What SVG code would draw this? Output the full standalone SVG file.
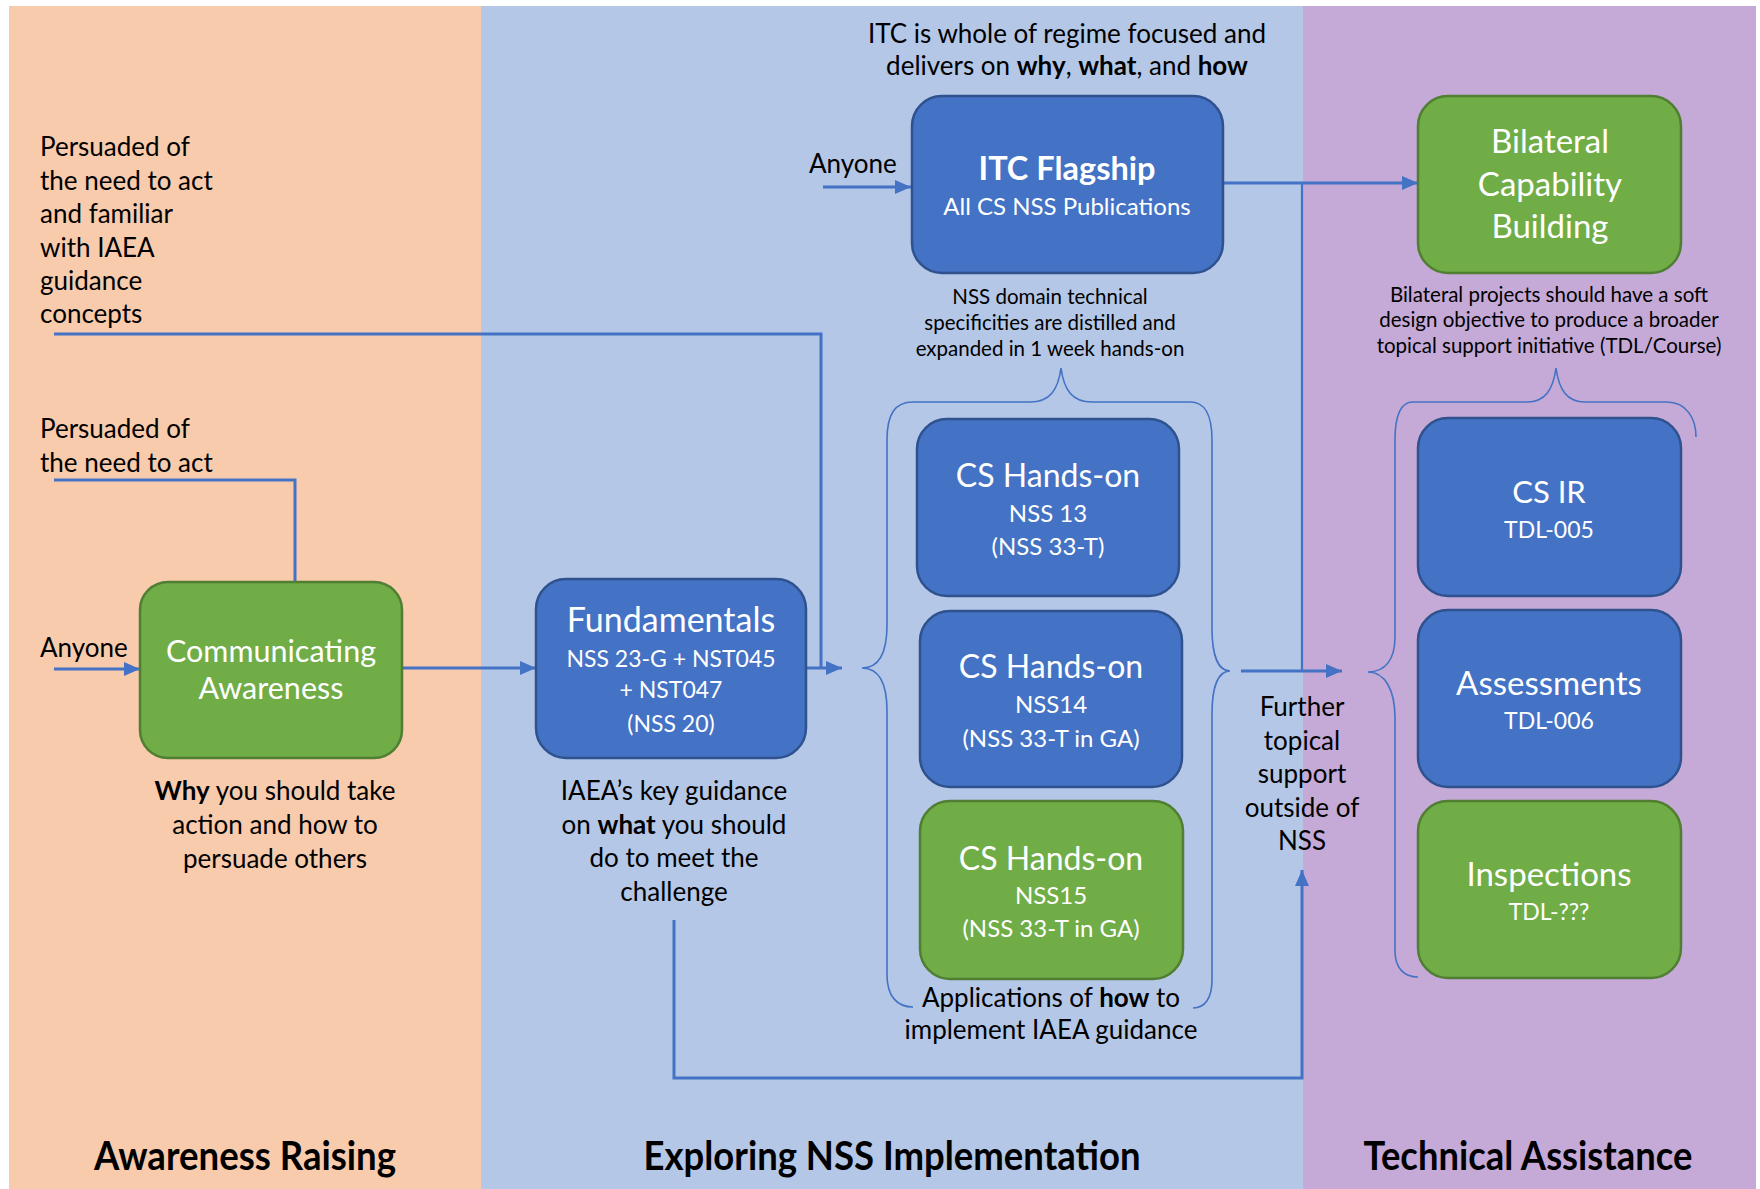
<svg xmlns="http://www.w3.org/2000/svg" width="1760" height="1189" viewBox="0 0 1760 1189">
<defs>
<style>
.t{font-family:Lato,"Open Sans",sans-serif;fill:#000}
.c{text-anchor:middle}
.body{font-size:26px}
.small{font-size:20.5px}
.w{fill:#fff}
.title{font-size:32px}
.sub{font-size:23px}
.sub2{font-size:24px}
.panel{font-size:40px;font-weight:bold}
.b{font-weight:bold}
.blue{fill:#4472C4;stroke:#2F528F;stroke-width:2.5}
.green{fill:#70AD47;stroke:#507E32;stroke-width:2.5}
.conn{fill:none;stroke:#4472C4;stroke-width:3}
.thin{fill:none;stroke:#4472C4;stroke-width:2.2}
.brace{fill:none;stroke:#4472C4;stroke-width:1.6}
</style>
<marker id="arr" markerUnits="userSpaceOnUse" markerWidth="16" markerHeight="14" refX="16" refY="7" orient="auto">
<path d="M0,0 L16,7 L0,14 z" fill="#4472C4"/>
</marker>
</defs>
<rect x="0" y="0" width="1760" height="1189" fill="#fff"/>
<g id="panels">
<rect x="9" y="6" width="472" height="1183" fill="#F8CBAD"/>
<rect x="481" y="6" width="822" height="1183" fill="#B4C7E7"/>
<rect x="1303" y="6" width="453" height="1183" fill="#C5AAD7"/>
</g>

<g id="connectors">
<path class="conn" d="M54,334 H821 V668"/>
<path class="conn" d="M806,668 H842" marker-end="url(#arr)"/>
<path class="conn" d="M54,480 H295 V581"/>
<path class="conn" d="M54,669 H140" marker-end="url(#arr)"/>
<path class="conn" d="M402,668 H536" marker-end="url(#arr)"/>
<path class="conn" d="M823,187 H911" marker-end="url(#arr)"/>
<path class="conn" d="M1223,183 H1418" marker-end="url(#arr)"/>
<path class="thin" d="M1302,183 V671"/>
<path class="conn" d="M1241,671 H1342" marker-end="url(#arr)"/>
<path class="conn" d="M674,920 V1078 H1302 V870" marker-end="url(#arr)"/>
</g>

<g id="braces">
<path class="brace" d="M913,402 L1030,402 C1050,402 1058,390 1061,368 C1064,390 1072,402 1092,402 L1190,402"/>
<path class="brace" d="M913,402 C895,402 887,414 887,440 L887,625 C887,652 880,668 862,668 C880,668 887,684 887,711 L887,975 C887,996 897,1007 913,1007"/>
<path class="brace" d="M1190,402 C1205,402 1212,414 1212,440 L1212,628 C1212,655 1218,671 1230,671 C1218,671 1212,687 1212,714 L1212,980 C1212,998 1205,1008 1193,1008"/>
<path class="brace" d="M1413,402 L1527,402 C1545,402 1553,390 1556,368 C1559,390 1567,402 1585,402 L1667,402 C1686,402 1696,418 1696,437"/>
<path class="brace" d="M1413,402 C1400,402 1395,418 1395,440 L1395,637 C1395,660 1385,672 1368,672 C1385,672 1395,690 1395,718 L1395,951 C1395,968 1404,977 1418,977"/>
</g>

<g id="n-persuaded-familiar">
<text class="t body" x="40" y="156">Persuaded of</text>
<text class="t body" x="40" y="190">the need to act</text>
<text class="t body" x="40" y="223">and familiar</text>
<text class="t body" x="40" y="257">with IAEA</text>
<text class="t body" x="40" y="290">guidance</text>
<text class="t body" x="40" y="323">concepts</text>
</g>
<g id="n-persuaded">
<text class="t body" x="40" y="438">Persuaded of</text>
<text class="t body" x="40" y="472">the need to act</text>
</g>
<g id="n-anyone-1"><text class="t body" x="40" y="657">Anyone</text></g>

<g id="n-communicating">
<rect class="green" x="140" y="582" width="262" height="176" rx="28"/>
<text class="t w c" x="271" y="662" style="font-size:30.5px">Communicating</text>
<text class="t w c" x="271" y="699" style="font-size:30.5px">Awareness</text>
</g>
<g id="n-why">
<text class="t body c" x="275" y="800"><tspan class="b">Why</tspan> you should take</text>
<text class="t body c" x="275" y="834">action and how to</text>
<text class="t body c" x="275" y="868">persuade others</text>
</g>

<g id="n-fundamentals">
<rect class="blue" x="536" y="579" width="270" height="179" rx="30"/>
<text class="t w c" x="671" y="632" style="font-size:34px">Fundamentals</text>
<text class="t sub w c" x="671" y="667">NSS 23-G + NST045</text>
<text class="t sub w c" x="671" y="698">+ NST047</text>
<text class="t sub w c" x="671" y="732">(NSS 20)</text>
</g>
<g id="n-iaea">
<text class="t body c" x="674" y="800">IAEA’s key guidance</text>
<text class="t body c" x="674" y="834">on <tspan class="b">what</tspan> you should</text>
<text class="t body c" x="674" y="867">do to meet the</text>
<text class="t body c" x="674" y="901">challenge</text>
</g>

<g id="n-itc-note">
<text class="t body c" x="1067" y="43">ITC is whole of regime focused and</text>
<text class="t body c" x="1067" y="75">delivers on <tspan class="b">why</tspan>, <tspan class="b">what</tspan>, and <tspan class="b">how</tspan></text>
</g>
<g id="n-anyone-2"><text class="t body" x="809" y="173">Anyone</text></g>
<g id="n-itc">
<rect class="blue" x="912" y="96" width="311" height="177" rx="30"/>
<text class="t w c b" x="1067" y="180" style="font-size:32.5px">ITC Flagship</text>
<text class="t sub2 w c" x="1067" y="215">All CS NSS Publications</text>
</g>
<g id="n-nss-note">
<text class="t small c" x="1050" y="304">NSS domain technical</text>
<text class="t small c" x="1050" y="330">specificities are distilled and</text>
<text class="t small c" x="1050" y="356">expanded in 1 week hands-on</text>
</g>

<g id="n-hands1">
<rect class="blue" x="917" y="419" width="262" height="177" rx="30"/>
<text class="t title w c" x="1048" y="487">CS Hands-on</text>
<text class="t sub2 w c" x="1048" y="522">NSS 13</text>
<text class="t sub2 w c" x="1048" y="555">(NSS 33-T)</text>
</g>
<g id="n-hands2">
<rect class="blue" x="920" y="611" width="262" height="176" rx="30"/>
<text class="t title w c" x="1051" y="678">CS Hands-on</text>
<text class="t sub2 w c" x="1051" y="713">NSS14</text>
<text class="t sub2 w c" x="1051" y="747">(NSS 33-T in GA)</text>
</g>
<g id="n-hands3">
<rect class="green" x="920" y="801" width="263" height="178" rx="30"/>
<text class="t title w c" x="1051" y="870">CS Hands-on</text>
<text class="t sub2 w c" x="1051" y="904">NSS15</text>
<text class="t sub2 w c" x="1051" y="937">(NSS 33-T in GA)</text>
</g>
<g id="n-applications">
<text class="t body c" x="1051" y="1007">Applications of <tspan class="b">how</tspan> to</text>
<text class="t body c" x="1051" y="1039">implement IAEA guidance</text>
</g>

<g id="n-further">
<text class="t body c" x="1302" y="716">Further</text>
<text class="t body c" x="1302" y="750">topical</text>
<text class="t body c" x="1302" y="783">support</text>
<text class="t body c" x="1302" y="817">outside of</text>
<text class="t body c" x="1302" y="850">NSS</text>
</g>

<g id="n-bilateral">
<rect class="green" x="1418" y="96" width="263" height="177" rx="30"/>
<text class="t w c" x="1550" y="153" style="font-size:33px">Bilateral</text>
<text class="t w c" x="1550" y="196" style="font-size:33px">Capability</text>
<text class="t w c" x="1550" y="238" style="font-size:33px">Building</text>
</g>
<g id="n-bilateral-note">
<text class="t small c" x="1549" y="302">Bilateral projects should have a soft</text>
<text class="t small c" x="1549" y="327">design objective to produce a broader</text>
<text class="t small c" x="1549" y="353">topical support initiative (TDL/Course)</text>
</g>

<g id="n-csir">
<rect class="blue" x="1418" y="418" width="263" height="178" rx="30"/>
<text class="t w c" x="1549" y="503" style="font-size:31px">CS IR</text>
<text class="t sub w c" x="1549" y="538">TDL-005</text>
</g>
<g id="n-assess">
<rect class="blue" x="1418" y="610" width="263" height="177" rx="30"/>
<text class="t w c" x="1549" y="695" style="font-size:33px">Assessments</text>
<text class="t sub w c" x="1549" y="729">TDL-006</text>
</g>
<g id="n-inspect">
<rect class="green" x="1418" y="801" width="263" height="177" rx="30"/>
<text class="t w c" x="1549" y="886" style="font-size:33px">Inspections</text>
<text class="t sub w c" x="1549" y="920">TDL-???</text>
</g>

<g id="n-titles">
<text class="t panel c" x="245" y="1170" textLength="302" lengthAdjust="spacingAndGlyphs">Awareness Raising</text>
<text class="t panel c" x="892" y="1170" textLength="497" lengthAdjust="spacingAndGlyphs">Exploring NSS Implementation</text>
<text class="t panel c" x="1528" y="1170" textLength="329" lengthAdjust="spacingAndGlyphs">Technical Assistance</text>
</g>
</svg>
